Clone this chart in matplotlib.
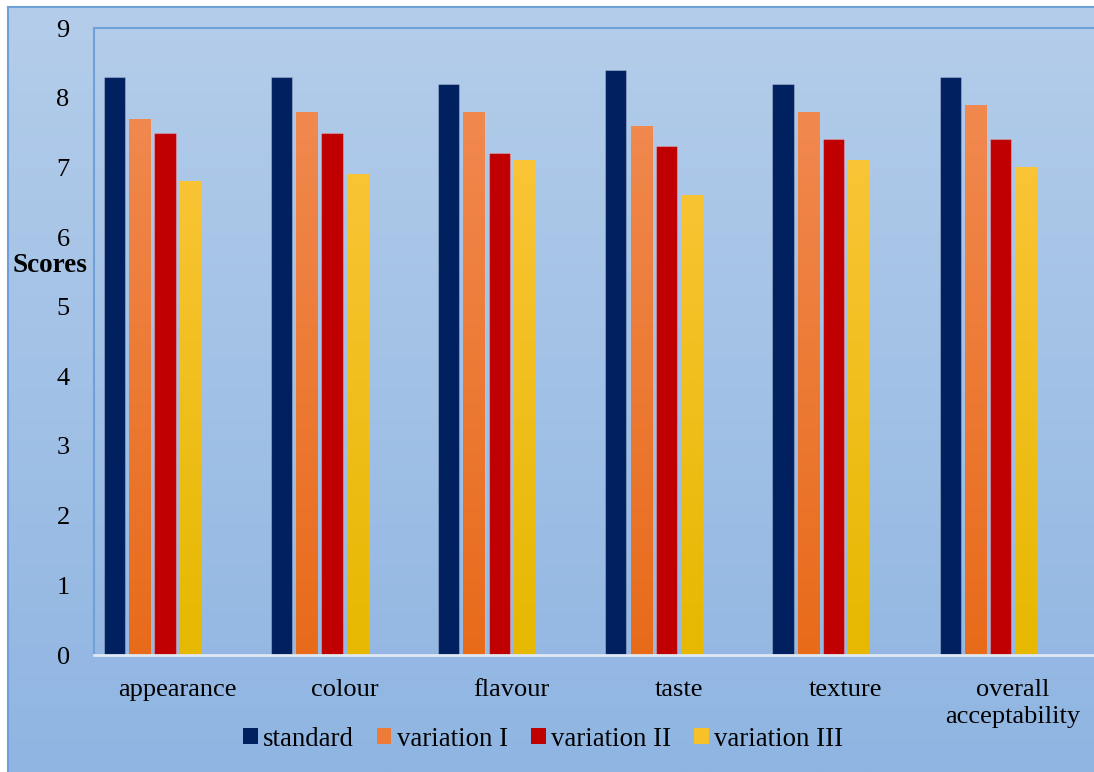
import numpy as np
import matplotlib
matplotlib.use("Agg")
import matplotlib.pyplot as plt
from matplotlib.patches import Patch
from matplotlib.colors import LinearSegmentedColormap

# --- data ---
categories = ["appearance", "colour", "flavour", "taste", "texture", "overall\nacceptability"]
series_names = ["standard", "variation I", "variation II", "variation III"]
standard = [8.3, 8.3, 8.2, 8.4, 8.2, 8.3]
variation_1 = [7.7, 7.8, 7.8, 7.6, 7.8, 7.9]
variation_2 = [7.5, 7.5, 7.2, 7.3, 7.4, 7.4]
variation_3 = [6.8, 6.9, 7.1, 6.6, 7.1, 7.0]
y_ticks = [0, 1, 2, 3, 4, 5, 6, 7, 8, 9]

# --- palette ---
BORDER = "#6fa0d8"
BG_TOP = "#b4cdea"
BG_BOTTOM = "#8fb5e2"
# (top colour, bottom colour) per series
BAR_COLORS = [
    ("#002060", "#002060"),
    ("#f28d57", "#e86b1a"),
    ("#c00000", "#c00000"),
    ("#ffc845", "#e6b800"),
]
LEGEND_COLORS = ["#002060", "#ee7a38", "#c00000", "#f6c228"]

plt.rcParams["font.family"] = ["Liberation Serif", "DejaVu Serif"]

W, H = 1094, 772
fig = plt.figure(figsize=(W / 100, H / 100), dpi=100)
fig.patch.set_facecolor("white")

# background gradient for the whole chart area
bg = fig.add_axes([8 / W, 0, 1 - 8 / W, 1 - 7 / H], zorder=0)
grad = np.linspace(0, 1, 256).reshape(-1, 1)
bg_cmap = LinearSegmentedColormap.from_list("bg", [BG_TOP, BG_BOTTOM])
bg.imshow(grad, aspect="auto", cmap=bg_cmap, extent=[0, 1, 0, 1], origin="upper")
bg.set_xticks([])
bg.set_yticks([])
for name, sp in bg.spines.items():
    sp.set_color(BORDER)
    sp.set_linewidth(1.5)
bg.spines["right"].set_visible(False)
bg.spines["bottom"].set_visible(False)

ax = fig.add_axes([94 / W, (H - 655) / H, 1 - 94 / W + 0.002, (655 - 28) / H], zorder=1)
ax.set_facecolor("none")

values = [standard, variation_1, variation_2, variation_3]
x = np.arange(len(categories))
pitch = 0.15
width = 0.126
ax.set_xlim(-0.5, 5.5)
ax.set_ylim(0, 9)

for j, (vals, (top_c, bot_c)) in enumerate(zip(values, BAR_COLORS)):
    offs = (j - 2.5) * pitch
    bars = ax.bar(x + offs, vals, width=width, color=top_c, zorder=2,
                  edgecolor=(1, 1, 1, 0.25), linewidth=0.8)
    if top_c != bot_c:
        cmap = LinearSegmentedColormap.from_list(f"s{j}", [top_c, bot_c])
        for b in bars:
            im = ax.imshow(grad, aspect="auto", cmap=cmap, origin="upper",
                           extent=[-0.5, 5.5, 0, 9], zorder=2.1)
            im.set_clip_path(b)

ax.set_xticks(x)
ax.set_xticklabels(categories, fontsize=19, linespacing=1.3)
ax.set_yticks(y_ticks)
ax.set_yticklabels([str(t) for t in y_ticks], fontsize=19)
ax.tick_params(axis="x", length=0, pad=17.5)
ax.tick_params(axis="y", length=0, pad=17.5)

ax.spines["left"].set_color(BORDER)
ax.spines["left"].set_linewidth(1.5)
ax.spines["top"].set_color(BORDER)
ax.spines["top"].set_linewidth(1.5)
ax.spines["right"].set_visible(False)
ax.spines["bottom"].set_color("#dfe8f3")
ax.spines["bottom"].set_linewidth(2)

fig.text(12 / W, (H - 265) / H, "Scores", fontsize=19.5, fontweight="bold",
         ha="left", va="center")

handles = [Patch(facecolor=c) for c in LEGEND_COLORS]
fig.legend(handles, series_names, loc="center", bbox_to_anchor=(543 / W, (H - 739) / H),
           ncol=4, frameon=False, fontsize=19.3, handlelength=0.55, handleheight=0.55,
           handletextpad=0.2, columnspacing=0.85)

fig.savefig("out.png", dpi=100)
